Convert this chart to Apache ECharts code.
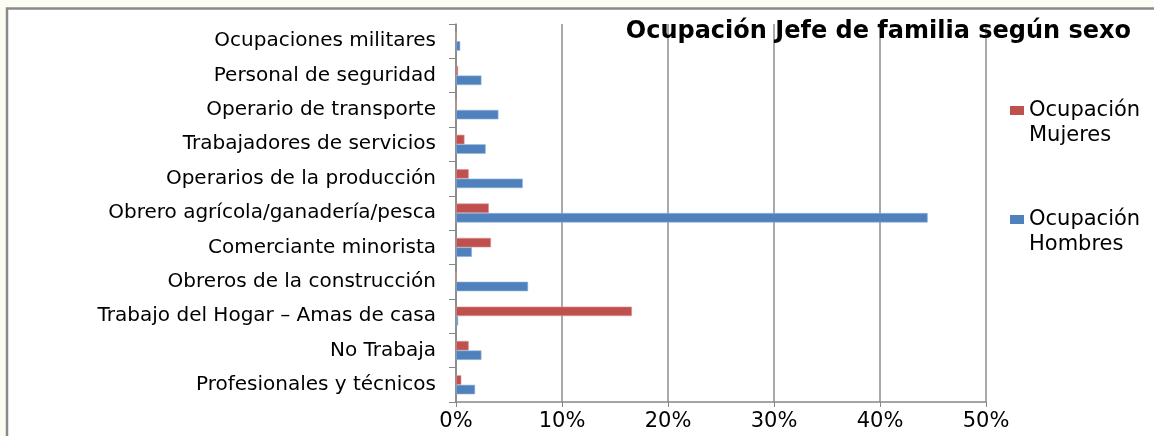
<!DOCTYPE html>
<html>
<head>
<meta charset="utf-8">
<script src="https://cdn.jsdelivr.net/npm/echarts@6/dist/echarts.min.js"></script>
<style>
  html, body { margin: 0; padding: 0; background: #fdfcf2; }
  #chart { width: 1154px; height: 436px; }
</style>
</head>
<body>
<div id="chart"></div>
<script>
// categorias de abajo hacia arriba (eje y de ECharts)
var categories = [
	'Profesionales y técnicos',
	'No Trabaja',
	'Trabajo del Hogar – Amas de casa',
	'Obreros de la construcción',
	'Comerciante minorista',
	'Obrero agrícola/ganadería/pesca',
	'Operarios de la producción',
	'Trabajadores de servicios',
	'Operario de transporte',
	'Personal de seguridad',
	'Ocupaciones militares'
];
var hombres = [1.8, 2.4, 0.2, 6.8, 1.5, 44.5, 6.3, 2.8, 4.0, 2.4, 0.4];
var mujeres = [0.5, 1.2, 16.6, 0, 3.3, 3.1, 1.2, 0.8, 0, 0.2, 0];
var xTicks = [0, 10, 20, 30, 40, 50];

var titulo = 'Ocupación Jefe de familia según sexo';
var nombreMujeres = 'Ocupación Mujeres';
var nombreHombres = 'Ocupación Hombres';

var fuente = 'DejaVu Sans';

var myChart = echarts.init(document.getElementById('chart'));

var option = {
	backgroundColor: '#fdfcf2',
	animation: false,
	graphic: [{
		type: 'rect',
		z: -10,
		shape: { x: 7, y: 8.5, width: 1250, height: 500 },
		style: { fill: '#ffffff', stroke: '#8a8a8a', lineWidth: 2.5 }
	}],
	title: {
		text: titulo,
		right: 18,
		top: 15,
		textStyle: {
			color: '#000',
			fontFamily: fuente,
			fontWeight: 'bold',
			fontSize: 24
		}
	},
	legend: {
		orient: 'vertical',
		left: 1010,
		top: 73,
		padding: 0,
		itemGap: 34,
		itemWidth: 14,
		itemHeight: 9,
		icon: 'rect',
		itemStyle: { borderWidth: 0 },
		data: [nombreMujeres, nombreHombres],
		// linea vacia arriba para que el cuadro quede junto a la primera linea
		formatter: function (name) {
			return '\n' + name.replace(' ', '\n');
		},
		textStyle: {
			color: '#000',
			fontFamily: fuente,
			fontSize: 21,
			lineHeight: 25
		}
	},
	grid: {
		left: 456,
		right: 168,
		top: 24,
		bottom: 34
	},
	xAxis: {
		type: 'value',
		min: xTicks[0],
		max: xTicks[xTicks.length - 1],
		interval: 10,
		axisLine: { show: true, lineStyle: { color: '#868686', width: 1.5 } },
		axisTick: { show: true, length: 5, lineStyle: { color: '#868686' } },
		axisLabel: {
			color: '#000',
			fontFamily: fuente,
			fontSize: 21,
			margin: 9,
			formatter: '{value}%'
		},
		splitLine: { show: true, lineStyle: { color: '#8c8c8c', width: 1.5 } }
	},
	yAxis: {
		type: 'category',
		data: categories,
		axisLine: { show: true, lineStyle: { color: '#868686', width: 1.5 } },
		axisTick: { show: true, length: 7, lineStyle: { color: '#868686' } },
		axisLabel: {
			color: '#000',
			fontFamily: fuente,
			fontSize: 20,
			margin: 20
		},
		splitLine: { show: false }
	},
	series: [
		{
			name: nombreMujeres,
			type: 'bar',
			barWidth: 9.5,
			barGap: '0%',
			itemStyle: { color: '#c0504d', borderColor: '#d99896', borderWidth: 0.6 },
			data: mujeres
		},
		{
			name: nombreHombres,
			type: 'bar',
			barWidth: 9.5,
			barGap: '0%',
			itemStyle: { color: '#4f81bd', borderColor: '#95b3d7', borderWidth: 0.6 },
			data: hombres
		}
	]
};
myChart.setOption(option);
</script>
</body>
</html>
